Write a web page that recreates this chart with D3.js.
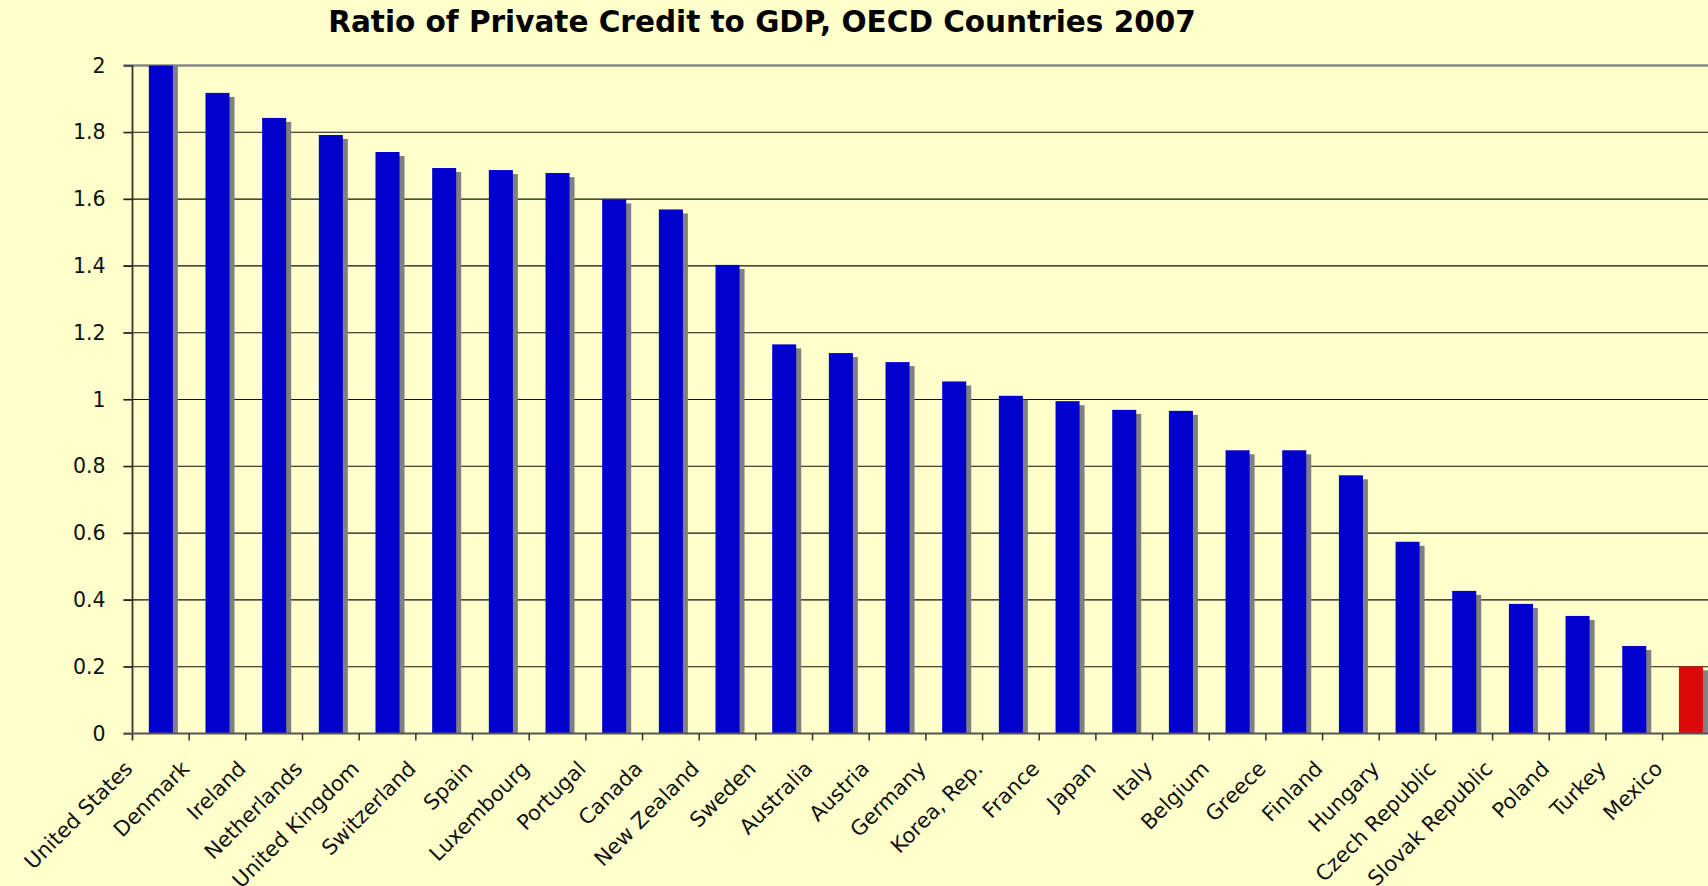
<!DOCTYPE html>
<html>
<head>
<meta charset="utf-8">
<script src="https://cdn.jsdelivr.net/npm/d3@7"></script>
<style>
  body { margin: 0; background: #ffffcc; overflow: hidden; }
  svg { display: block; font-family: "DejaVu Sans", Verdana, sans-serif; }
</style>
</head>
<body>
<svg width="1708" height="886"></svg>
<script>
const countries = ['United States', 'Denmark', 'Ireland', 'Netherlands', 'United Kingdom',
  'Switzerland', 'Spain', 'Luxembourg', 'Portugal', 'Canada', 'New Zealand', 'Sweden',
  'Australia', 'Austria', 'Germany', 'Korea, Rep.', 'France', 'Japan', 'Italy', 'Belgium',
  'Greece', 'Finland', 'Hungary', 'Czech Republic', 'Slovak Republic', 'Poland', 'Turkey', 'Mexico']
// US goes past the axis top and is cut at 2
const ratios = [2.05, 1.918, 1.843, 1.792, 1.741, 1.693, 1.687, 1.678, 1.599, 1.569, 1.403, 1.165,
  1.139, 1.112, 1.054, 1.011, 0.995, 0.969, 0.966, 0.848, 0.848, 0.773, 0.574, 0.427,
  0.388, 0.352, 0.262, 0.201]
const yTicks = [0, 0.2, 0.4, 0.6, 0.8, 1, 1.2, 1.4, 1.6, 1.8, 2]
const highlight = 'Mexico'

const svg = d3.select('svg')
const width = +svg.attr('width')

const plotLeft = 132.5, plotTop = 65.5, plotBottom = 733.5, step = 56.67

const x = d3.scaleBand()
    .domain(countries)
    .range([plotLeft, plotLeft + step * countries.length])

const y = d3.scaleLinear()
    .domain([0, 2])
    .range([plotBottom, plotTop])

svg.append('rect')
    .attr('width', width).attr('height', 886)
    .attr('fill', '#ffffcc')

svg.append('text')
    .attr('x', 762).attr('y', 32)
    .attr('text-anchor', 'middle')
    .attr('font-size', 29.5).attr('font-weight', 'bold')
    .text('Ratio of Private Credit to GDP, OECD Countries 2007')

// grid lines
svg.append('g')
  .selectAll('line')
  .data(yTicks.filter(d => d > 0))
  .join('line')
    .attr('x1', plotLeft - 9).attr('x2', width)
    .attr('y1', d => y(d)).attr('y2', d => y(d))
    .attr('stroke', d => d === 2 ? '#888' : '#111')
    .attr('stroke-width', d => d === 2 ? 2.4 : 1.1)

svg.append('clipPath').attr('id', 'plot')
  .append('rect')
    .attr('x', plotLeft).attr('y', plotTop)
    .attr('width', width - plotLeft).attr('height', plotBottom - plotTop)

const bw = x.bandwidth() * 0.424
const off = (x.bandwidth() - bw) / 2

const bars = svg.append('g').attr('clip-path', 'url(#plot)')

bars.selectAll('.shadow')
  .data(countries)
  .join('rect')
    .attr('class', 'shadow')
    .attr('x', d => x(d) + off + 5)
    .attr('y', (d, i) => y(ratios[i]) + 4)
    .attr('width', bw)
    .attr('height', (d, i) => plotBottom - y(ratios[i]))
    .attr('fill', '#808080')

bars.selectAll('.bar')
  .data(countries)
  .join('rect')
    .attr('class', 'bar')
    .attr('x', d => x(d) + off)
    .attr('y', (d, i) => y(ratios[i]))
    .attr('width', bw)
    .attr('height', (d, i) => plotBottom - y(ratios[i]))
    .attr('fill', d => d === highlight ? '#dd0808' : '#0000cc')

// y axis
const yAxis = svg.append('g')
    .attr('transform', `translate(${plotLeft},0)`)
    .call(d3.axisLeft(y).tickValues(yTicks).tickSize(9).tickPadding(18)
      .tickFormat(d3.format('~g')))
yAxis.select('.domain').remove()
yAxis.selectAll('.tick line').attr('stroke', '#222').attr('stroke-width', 1.2)
yAxis.selectAll('.tick text')
    .attr('font-size', 20.5).attr('fill', '#111')
    .attr('font-family', '"DejaVu Sans", Verdana, sans-serif')

svg.append('line')
    .attr('x1', plotLeft).attr('x2', plotLeft)
    .attr('y1', plotTop).attr('y2', plotBottom + 7)
    .attr('stroke', '#333').attr('stroke-width', 1.8)

// x axis
svg.append('line')
    .attr('x1', plotLeft - 9).attr('x2', width)
    .attr('y1', plotBottom).attr('y2', plotBottom)
    .attr('stroke', '#555').attr('stroke-width', 1.8)

svg.append('g')
  .selectAll('line')
  .data(countries.slice(1))
  .join('line')
    .attr('x1', d => x(d)).attr('x2', d => x(d))
    .attr('y1', plotBottom).attr('y2', plotBottom + 7)
    .attr('stroke', '#333').attr('stroke-width', 1.5)

svg.append('g')
  .selectAll('text')
  .data(countries)
  .join('text')
    .attr('transform', d => `translate(${x(d) + x.bandwidth() / 2 - 27},770) rotate(-45)`)
    .attr('text-anchor', 'end')
    .attr('font-size', 21).attr('fill', '#111')
    .text(d => d)
</script>
</body>
</html>
